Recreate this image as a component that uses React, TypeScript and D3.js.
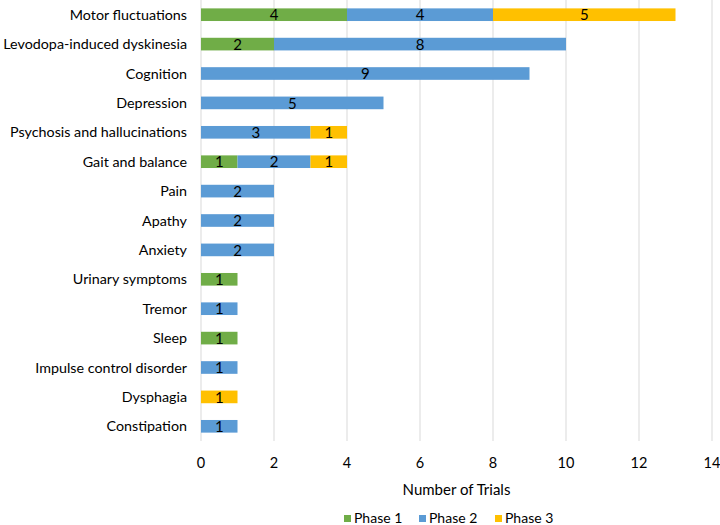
import { useEffect, useRef } from "react";
import * as d3 from "d3";

const categories = [
  "Motor fluctuations",
  "Levodopa-induced dyskinesia",
  "Cognition",
  "Depression",
  "Psychosis and hallucinations",
  "Gait and balance",
  "Pain",
  "Apathy",
  "Anxiety",
  "Urinary symptoms",
  "Tremor",
  "Sleep",
  "Impulse control disorder",
  "Dysphagia",
  "Constipation",
];
const phase1 = [4, 2, 0, 0, 0, 1, 0, 0, 0, 1, 0, 1, 0, 0, 0];
const phase2 = [4, 8, 9, 5, 3, 2, 2, 2, 2, 0, 1, 0, 1, 0, 1];
const phase3 = [5, 0, 0, 0, 1, 1, 0, 0, 0, 0, 0, 0, 0, 1, 0];
const seriesNames = ["Phase 1", "Phase 2", "Phase 3"];
const seriesColors = ["#70AD47", "#5B9BD5", "#FFC000"];
const xTicks = [0, 2, 4, 6, 8, 10, 12, 14];

const FONT = "Lato, Open Sans, sans-serif";

export default function App() {
  const svgRef = useRef<SVGSVGElement | null>(null);

  useEffect(() => {
    if (!svgRef.current) return;
    const width = 720;
    const height = 525;
    const svg = d3.select(svgRef.current);
    svg.selectAll("*").remove();
    svg.attr("width", width).attr("height", height).attr("viewBox", `0 0 ${width} ${height}`);

    const left = 201;
    const right = 712;
    const top = 0;
    const bottom = 441;

    const x = d3.scaleLinear().domain([0, 14]).range([left, right]);
    const y = d3.scaleBand().domain(categories).range([top, bottom]).paddingInner(0.57).paddingOuter(0.285);

    // gridlines
    svg
      .append("g")
      .selectAll("line")
      .data(xTicks)
      .join("line")
      .attr("x1", (d) => x(d))
      .attr("x2", (d) => x(d))
      .attr("y1", top)
      .attr("y2", bottom)
      .attr("stroke", "#D9D9D9")
      .attr("stroke-width", 1);

    const rows = categories.map((c, i) => ({ cat: c, vals: [phase1[i], phase2[i], phase3[i]] }));
    const stack = d3
      .stack<{ cat: string; vals: number[] }>()
      .keys(["0", "1", "2"])
      .value((d, k) => d.vals[+k]);
    const layers = stack(rows);

    layers.forEach((layer, si) => {
      const g = svg.append("g");
      layer.forEach((seg) => {
        const v = seg[1] - seg[0];
        if (v <= 0) return;
        const cat = seg.data.cat;
        const y0 = y(cat)!;
        g.append("rect")
          .attr("x", x(seg[0]))
          .attr("y", y0)
          .attr("width", x(seg[1]) - x(seg[0]))
          .attr("height", y.bandwidth())
          .attr("fill", seriesColors[si]);
        g.append("text")
          .attr("x", (x(seg[0]) + x(seg[1])) / 2)
          .attr("y", y0 + y.bandwidth() / 2)
          .attr("dy", "0.38em")
          .attr("text-anchor", "middle")
          .attr("font-family", FONT)
          .attr("font-size", "15px")
          .attr("fill", "#000")
          .text(v);
      });
    });

    // category labels
    svg
      .append("g")
      .selectAll("text")
      .data(categories)
      .join("text")
      .attr("x", left - 14)
      .attr("y", (d) => y(d)! + y.bandwidth() / 2)
      .attr("dy", "0.36em")
      .attr("text-anchor", "end")
      .attr("font-family", FONT)
      .attr("font-size", "14.3px")
      .attr("fill", "#000")
      .text((d) => d);

    // x tick labels
    svg
      .append("g")
      .selectAll("text")
      .data(xTicks)
      .join("text")
      .attr("x", (d) => x(d))
      .attr("y", 463)
      .attr("dy", "0.36em")
      .attr("text-anchor", "middle")
      .attr("font-family", FONT)
      .attr("font-size", "14.5px")
      .attr("fill", "#000")
      .text((d) => d);

    svg
      .append("text")
      .attr("x", (left + right) / 2)
      .attr("y", 490)
      .attr("dy", "0.36em")
      .attr("text-anchor", "middle")
      .attr("font-family", FONT)
      .attr("font-size", "15px")
      .attr("fill", "#000")
      .text("Number of Trials");

    // legend
    const legendX = [344, 419, 495];
    const lg = svg.append("g");
    seriesNames.forEach((name, i) => {
      lg.append("rect")
        .attr("x", legendX[i])
        .attr("y", 515)
        .attr("width", 7)
        .attr("height", 7)
        .attr("fill", seriesColors[i]);
      lg.append("text")
        .attr("x", legendX[i] + 10)
        .attr("y", 518)
        .attr("dy", "0.36em")
        .attr("font-family", FONT)
        .attr("font-size", "14px")
        .attr("fill", "#000")
        .text(name);
    });
  }, []);

  return (
    <div style={{ position: "absolute", left: 0, top: 0 }}>
      <svg ref={svgRef} style={{ display: "block" }} />
    </div>
  );
}
